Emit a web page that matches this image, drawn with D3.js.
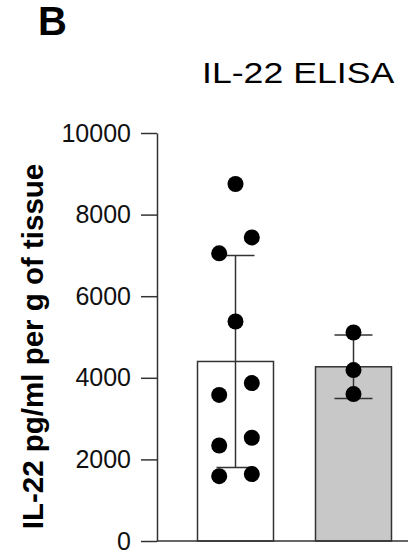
<!DOCTYPE html>
<html>
<head>
<meta charset="utf-8">
<script src="https://cdn.jsdelivr.net/npm/d3@7"></script>
<style>
  body { margin: 0; background: #fff; }
  text { font-family: "Liberation Sans", Arial, sans-serif; }
</style>
</head>
<body>
<div id="canvas"></div>
<script>
// data
const groups = ["Group 1", "Group 2"];
const means = [4400, 4270];
const sds = [2600, 780];
const barFills = ["#ffffff", "#c8c8c8"];
const group1Values = [8750, 7440, 7050, 5380, 3580, 3870, 2340, 2530, 1590, 1640];
const group1Slots = [0, 1, -1, 0, -1, 1, -1, 1, -1, 1];
const group2Values = [5110, 4190, 3600];
const group2Slots = [0, 0, 0];
const yTicks = [0, 2000, 4000, 6000, 8000, 10000];

const dims = { width: 408, height: 552 };
const margin = { top: 133, left: 157, bottom: 11 };

const svg = d3
  .select("#canvas")
  .append("svg")
  .attr("width", dims.width)
  .attr("height", dims.height);

const yScale = d3
  .scaleLinear()
  .domain([0, 10000])
  .range([dims.height - margin.bottom, margin.top]);

const xScale = d3
  .scaleBand()
  .domain(groups)
  .range([176.5, 412.5])
  .paddingInner(0.356)
  .paddingOuter(0.178);

// small horizontal offset for dots sharing a height
const slotScale = d3.scaleLinear().domain([-1, 1]).range([-16.3, 16.3]);

const points = [
  ...group1Values.map((v, i) => ({ group: groups[0], value: v, slot: group1Slots[i] })),
  ...group2Values.map((v, i) => ({ group: groups[1], value: v, slot: group2Slots[i] }))
];
const bars = groups.map((g, i) => ({ group: g, mean: means[i], sd: sds[i], fill: barFills[i] }));

// panel letter and title
svg.append("text")
  .attr("x", 38)
  .attr("y", 35)
  .attr("font-size", 40)
  .attr("font-weight", "bold")
  .text("B");

// title glyphs are stretched wide in the original
svg.append("text")
  .attr("transform", "translate(202, 83) scale(1.23, 1)")
  .attr("font-size", 29)
  .text("IL-22 ELISA");

// y axis label
svg.append("text")
  .attr("transform", `translate(43, 346.5) rotate(-90)`)
  .attr("text-anchor", "middle")
  .attr("font-size", 29.5)
  .attr("font-weight", "bold")
  .text("IL-22 pg/ml per g of tissue");

// bars
svg.selectAll("rect.bar")
  .data(bars)
  .enter()
  .append("rect")
  .attr("class", "bar")
  .attr("x", d => xScale(d.group))
  .attr("width", xScale.bandwidth())
  .attr("y", d => yScale(d.mean))
  .attr("height", d => yScale(0) - yScale(d.mean))
  .attr("fill", d => d.fill)
  .attr("stroke", "#333")
  .attr("stroke-width", 1.5);

// error bars
const capHalf = 19;
const errG = svg.append("g").attr("stroke", "#333").attr("stroke-width", 1.5);
bars.forEach(d => {
  const cx = xScale(d.group) + xScale.bandwidth() / 2;
  errG.append("line")
    .attr("x1", cx).attr("x2", cx)
    .attr("y1", yScale(d.mean - d.sd)).attr("y2", yScale(d.mean + d.sd));
  [d.mean - d.sd, d.mean + d.sd].forEach(v => {
    errG.append("line")
      .attr("x1", cx - capHalf).attr("x2", cx + capHalf)
      .attr("y1", yScale(v)).attr("y2", yScale(v));
  });
});

// dots
svg.selectAll("circle")
  .data(points)
  .enter()
  .append("circle")
  .attr("cx", d => xScale(d.group) + xScale.bandwidth() / 2 + slotScale(d.slot))
  .attr("cy", d => yScale(d.value))
  .attr("r", 8)
  .attr("fill", "#000");

// axes
const yAxis = d3
  .axisLeft(yScale)
  .tickValues(yTicks)
  .tickSize(16)
  .tickSizeOuter(0)
  .tickPadding(10)
  .tickFormat(d3.format("d"));

const yAxisGroup = svg
  .append("g")
  .attr("transform", `translate(${margin.left}, 0)`)
  .call(yAxis);

yAxisGroup.selectAll("line, path").attr("stroke", "#333").attr("stroke-width", 1.5);
yAxisGroup.selectAll("text")
  .attr("font-size", 25)
  .attr("font-family", "Liberation Sans, Arial, sans-serif")
  .attr("fill", "#111");

svg.append("line")
  .attr("x1", margin.left)
  .attr("x2", dims.width)
  .attr("y1", yScale(0))
  .attr("y2", yScale(0))
  .attr("stroke", "#333")
  .attr("stroke-width", 1.5);
</script>
</body>
</html>
